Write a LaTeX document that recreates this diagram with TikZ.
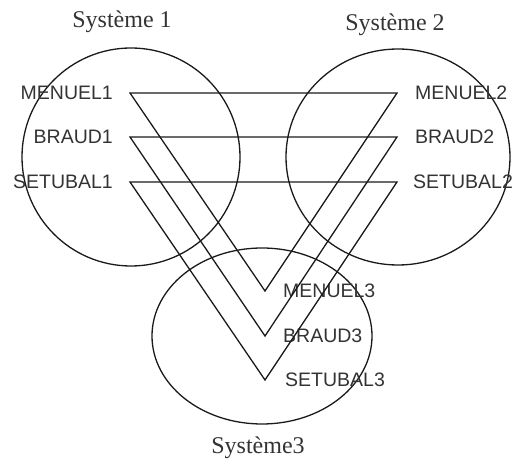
\documentclass[tikz,border=0pt]{standalone}
\usepackage{fontspec}
\setmainfont{Liberation Serif}
\newfontfamily\labelfont{Liberation Sans}
\usepackage{xcolor}
\usepackage{tikz}
\usetikzlibrary{positioning}
\definecolor{cLine}{HTML}{1A1A1A}
\definecolor{cText}{HTML}{333333}
\tikzset{
  sys/.style   ={cLine,line width=1.3pt},
  link/.style  ={cLine,line width=1.3pt,line join=miter},
  item/.style  ={inner sep=0pt,text=cText,font=\labelfont\fontsize{19.5}{19.5}\selectfont},
  title/.style ={inner sep=0pt,text=cText,font=\fontsize{24}{24}\selectfont},
}

\begin{document}
\begin{tikzpicture}[x=1pt,y=-1pt]
  \useasboundingbox (0,0) rectangle (515,462);
  % the three systems
  \draw[sys] (131,157) ellipse [x radius=109,y radius=109];
  \draw[sys] (398,157) ellipse [x radius=112,y radius=108];
  \draw[sys] (262,336) ellipse [x radius=110,y radius=88];
  \node[title] (t1) at (122,22) {Système 1};
  \node[title] (t2) at (395,25) {Système 2};
  \node[title] (t3) at (258,448) {Système3};
  % vertices of the triangles
  \coordinate (m1) at (130,93);  \coordinate (m2) at (397,93);  \coordinate (m3) at (265,291);
  \coordinate (b1) at (130,137); \coordinate (b2) at (397,137); \coordinate (b3) at (265,336);
  \coordinate (s1) at (130,182); \coordinate (s2) at (397,182); \coordinate (s3) at (265,380);
  % names
  \node[item,left=17pt of m1]  (lm1) {MENUEL1};
  \node[item,left=17pt of b1]  (lb1) {BRAUD1};
  \node[item,left=17pt of s1]  (ls1) {SETUBAL1};
  \node[item,right=18pt of m2] (lm2) {MENUEL2};
  \node[item,right=18pt of b2] (lb2) {BRAUD2};
  \node[item,right=16pt of s2] (ls2) {SETUBAL2};
  \node[item,right=18pt of m3] (lm3) {MENUEL3};
  \node[item,right=18pt of b3] (lb3) {BRAUD3};
  \node[item,right=20pt of s3] (ls3) {SETUBAL3};
  % links
  \draw[link] (m1) -- (m2) -- (m3) -- cycle;
  \draw[link] (b1) -- (b2) -- (b3) -- cycle;
  \draw[link] (s1) -- (s2) -- (s3) -- cycle;
\end{tikzpicture}
\end{document}
